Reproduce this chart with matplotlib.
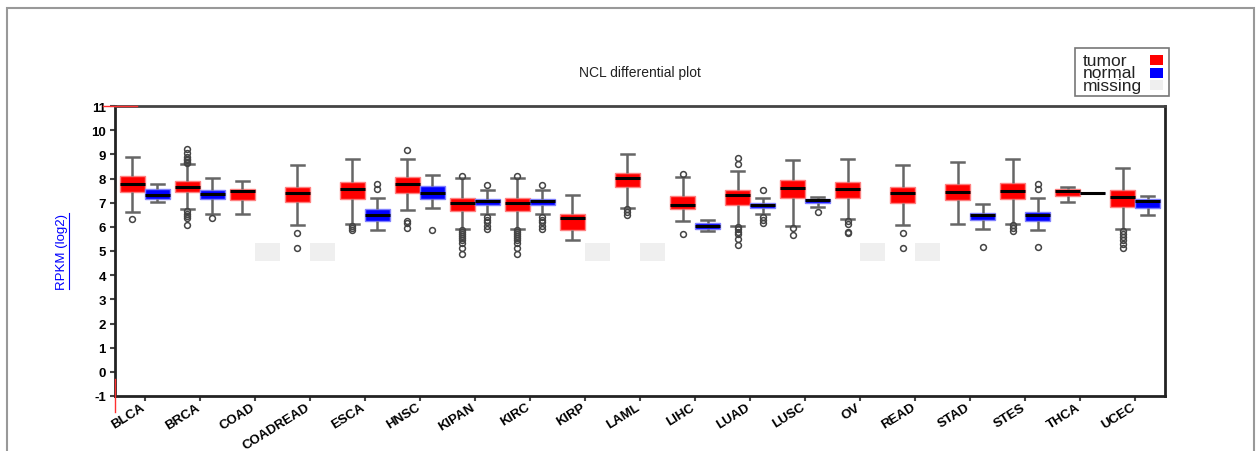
import numpy as np
import matplotlib
matplotlib.use('Agg')
import matplotlib.pyplot as plt
from matplotlib.patches import Rectangle
from matplotlib.lines import Line2D
from matplotlib.transforms import ScaledTranslation

plt.rcParams['font.family'] = ['Liberation Sans', 'DejaVu Sans']

categories = ['BLCA', 'BRCA', 'COAD', 'COADREAD', 'ESCA', 'HNSC', 'KIPAN', 'KIRC', 'KIRP',
              'LAML', 'LIHC', 'LUAD', 'LUSC', 'OV', 'READ', 'STAD', 'STES', 'THCA', 'UCEC']

# tumor box statistics
tumor_whislo = [6.63, 6.73, 6.55, 6.06, 6.11, 6.70, 5.93, 5.93, 5.46, 6.80, 6.23, 6.04, 6.04, 6.31, 6.06, 6.13, 6.13, 7.04, 5.90]
tumor_q1     = [7.44, 7.44, 7.10, 7.03, 7.14, 7.42, 6.66, 6.66, 5.87, 7.65, 6.75, 6.92, 7.21, 7.21, 7.00, 7.11, 7.14, 7.28, 6.84]
tumor_med    = [7.76, 7.65, 7.48, 7.39, 7.55, 7.76, 6.97, 6.97, 6.35, 8.01, 6.89, 7.32, 7.62, 7.55, 7.39, 7.46, 7.48, 7.48, 7.24]
tumor_q3     = [8.10, 7.90, 7.58, 7.65, 7.86, 8.06, 7.18, 7.18, 6.52, 8.24, 7.28, 7.52, 7.94, 7.86, 7.66, 7.79, 7.83, 7.55, 7.51]
tumor_whishi = [8.89, 8.60, 7.90, 8.56, 8.80, 8.80, 8.04, 8.04, 7.31, 9.00, 8.08, 8.29, 8.77, 8.80, 8.56, 8.70, 8.80, 7.66, 8.42]
tumor_fliers = [
    [6.34],
    [9.21, 9.05, 8.88, 8.82, 8.76, 8.70, 8.66, 6.66, 6.55, 6.45, 6.38, 6.06],
    [],
    [5.76, 5.11],
    [6.04, 5.95, 5.85],
    [9.17, 6.24, 6.15, 5.95],
    [8.10, 5.88, 5.80, 5.72, 5.64, 5.55, 5.45, 5.32, 5.11, 4.86],
    [8.10, 5.88, 5.80, 5.72, 5.64, 5.55, 5.45, 5.32, 5.11, 4.86],
    [],
    [6.73, 6.62, 6.50],
    [8.20, 5.72],
    [8.86, 8.59, 5.98, 5.90, 5.80, 5.70, 5.50, 5.24],
    [5.97, 5.65],
    [6.24, 6.11, 5.78, 5.73],
    [5.76, 5.11],
    [],
    [6.06, 5.95, 5.83],
    [],
    [5.83, 5.72, 5.60, 5.45, 5.30, 5.14],
]

# normal box statistics (nan = missing)
nan = np.nan
normal_whislo = [7.02, 6.52, nan, nan, 5.87, 6.77, 6.52, 6.52, nan, nan, 5.83, 6.52, 6.84, nan, nan, 5.90, 5.86, 7.42, 6.49]
normal_q1     = [7.14, 7.14, nan, nan, 6.23, 7.17, 6.89, 6.89, nan, nan, 5.90, 6.80, 7.00, nan, nan, 6.27, 6.23, 7.42, 6.80]
normal_med    = [7.32, 7.35, nan, nan, 6.48, 7.42, 7.05, 7.08, nan, nan, 6.04, 6.90, 7.10, nan, nan, 6.48, 6.48, 7.42, 7.08]
normal_q3     = [7.55, 7.52, nan, nan, 6.73, 7.69, 7.17, 7.17, nan, nan, 6.15, 7.00, 7.17, nan, nan, 6.59, 6.62, 7.42, 7.17]
normal_whishi = [7.76, 8.01, nan, nan, 7.21, 8.16, 7.52, 7.52, nan, nan, 6.27, 7.21, 7.24, nan, nan, 6.93, 7.21, 7.42, 7.28]
normal_fliers = [
    [], [6.38], [], [], [7.76, 7.55], [5.86],
    [7.72, 6.40, 6.28, 6.18, 6.05, 5.90],
    [7.72, 6.40, 6.28, 6.18, 6.05, 5.90],
    [], [], [], [7.51, 6.42, 6.30, 6.15], [6.63], [], [], [5.18],
    [7.79, 7.55, 5.18], [], [],
]

missing_lo = 4.6
missing_hi = 5.35

y_ticks = list(range(-1, 12))

W, H = 1256, 452
fig = plt.figure(figsize=(W / 100, H / 100), dpi=100)

ax = fig.add_axes([115 / W, 1 - 397 / H, (1165 - 115) / W, (397 - 107) / H])

n = len(categories)
idx = np.arange(n)
off = 0.2273
bw = 0.4545

def make_stats(lo, q1, med, q3, hi, fl):
    out, pos = [], []
    for i in range(n):
        if np.isnan(med[i]):
            continue
        out.append(dict(whislo=lo[i], q1=q1[i], med=med[i], q3=q3[i], whishi=hi[i],
                        fliers=np.array(fl[i])))
        pos.append(i)
    return out, np.array(pos)

common = dict(
    patch_artist=True, manage_ticks=False, widths=bw,
    medianprops=dict(color='black', linewidth=2.2),
    whiskerprops=dict(color='#666666', linewidth=1.8, solid_capstyle='butt'),
    capprops=dict(color='#666666', linewidth=1.8),
    flierprops=dict(marker='o', markerfacecolor='none', markeredgecolor='#444444',
                    markersize=4.2, markeredgewidth=1.1),
)

ts, tp = make_stats(tumor_whislo, tumor_q1, tumor_med, tumor_q3, tumor_whishi, tumor_fliers)
ax.bxp(ts, positions=tp - off,
       boxprops=dict(facecolor='#ff0000', edgecolor='#ff8080', linewidth=1.0), **common)

ns, npos = make_stats(normal_whislo, normal_q1, normal_med, normal_q3, normal_whishi, normal_fliers)
ax.bxp(ns, positions=npos + off,
       boxprops=dict(facecolor='#0000ff', edgecolor='#8080ff', linewidth=1.0), **common)

missing_idx = [i for i in range(n) if np.isnan(normal_med[i])]
ax.bar(np.array(missing_idx) + off, [missing_hi - missing_lo] * len(missing_idx),
       bottom=missing_lo, width=bw, color='#efefef', edgecolor='none', zorder=1)

ax.set_xlim(-0.545, n - 1 + 0.545)
ax.set_ylim(-1, 11)
ax.set_yticks(y_ticks)
ax.set_yticklabels([str(v) for v in y_ticks], fontsize=9.5, fontweight='bold')
ax.set_xticks(idx)
ax.set_xticklabels(categories, fontsize=9.5, fontweight='bold', rotation=32,
                   ha='right', va='center', rotation_mode='anchor')
ax.tick_params(axis='both', direction='out', length=3.6, width=1.5, color='#444444')
ax.tick_params(axis='x', pad=3.5)
ax.tick_params(axis='y', pad=3)
shift = ScaledTranslation(-1 / 100, 0, fig.dpi_scale_trans)
for lab in ax.get_xticklabels():
    lab.set_transform(lab.get_transform() + shift)
for s in ax.spines.values():
    s.set_linewidth(2.0)
    s.set_color('#222222')
ax.spines['top'].set_color('#444444')

fig.text(640 / W, 1 - 73 / H, 'NCL differential plot', fontsize=10, color='#222222',
         ha='center', va='center')

ylab = fig.text(62 / W, 1 - 252 / H, 'RPKM (log2)', rotation=90, color='#0000ff',
                fontsize=9.5, ha='center', va='center')

# legend drawn manually
fig.add_artist(Rectangle((1075 / W, 1 - 97 / H), (1169 - 1075) / W, (97 - 49) / H,
                         transform=fig.transFigure, facecolor='white',
                         edgecolor='#777777', linewidth=1.2))
leg_labels = ['tumor', 'normal', 'missing']
leg_colors = ['#ff0000', '#0000ff', '#efefef']
leg_y = [61, 73.5, 86]
for lab, col, yy in zip(leg_labels, leg_colors, leg_y):
    fig.text(1083 / W, 1 - yy / H, lab, fontsize=12.5, color='#222222',
             ha='left', va='center')
    fig.add_artist(Rectangle((1150 / W, 1 - (yy + 5) / H), 13 / W, 10 / H,
                             transform=fig.transFigure, facecolor=col, edgecolor='none'))

# outer frame
fig.add_artist(Rectangle((7 / W, -0.05), (1254 - 7) / W, 1.05 - 9 / H,
                         transform=fig.transFigure, facecolor='none',
                         edgecolor='#999999', linewidth=1.5))
# red artifacts near axis corners
fig.add_artist(Line2D([103 / W, 137 / W], [1 - 107 / H, 1 - 107 / H],
                      transform=fig.transFigure, color='#ff3030', linewidth=1.0))
fig.add_artist(Line2D([115 / W, 115 / W], [1 - 380 / H, 1 - 413 / H],
                      transform=fig.transFigure, color='#ff3030', linewidth=1.0))

# underline for y label
fig.canvas.draw()
bb = ylab.get_window_extent()
fig.add_artist(Line2D([(bb.x1 + 0.5) / W] * 2, [bb.y0 / H, bb.y1 / H],
                      transform=fig.transFigure, color='#0000ff', linewidth=0.8))

fig.savefig('out.png', dpi=100, facecolor='white')
